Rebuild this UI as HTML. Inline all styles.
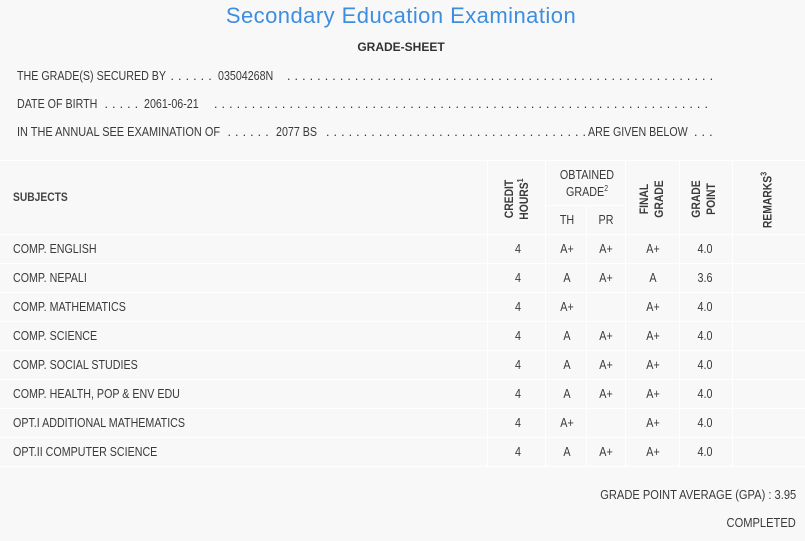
<!DOCTYPE html>
<html><head><meta charset="utf-8">
<style>
html,body{margin:0;padding:0}
body{width:805px;height:541px;background:#f8f8f9;position:relative;overflow:hidden;font-family:"Liberation Sans",Arial,sans-serif;color:#3a3a3a}
.a{position:absolute;white-space:nowrap;font-size:12.5px;line-height:14px}
.l{transform-origin:0 50%;transform:scaleX(.855)}
.c{transform:translateX(-50%) scaleX(.86)}
.r{transform-origin:100% 50%;transform:scaleX(.89)}
.d{position:absolute;white-space:nowrap;overflow:hidden;font-size:12.5px;line-height:14px;letter-spacing:.3px;color:#333}
.h{position:absolute;background:#fff;height:1px}
.v{position:absolute;background:#fff;width:1px}
.rot{position:absolute;white-space:nowrap;font-size:11.5px;line-height:15px;font-weight:bold;text-align:center;color:#3a3a3a;transform:translate(-50%,-50%) rotate(-90deg) scaleX(.9)}
sup{font-size:8px;line-height:0;vertical-align:5px}
</style></head><body>

<div class="a" style="left:401px;top:3px;font-size:22px;line-height:26px;letter-spacing:.45px;color:#3d8ee0;transform:translateX(-50%)">Secondary Education Examination</div>
<div class="a" style="left:401px;top:40px;font-size:12px;font-weight:bold;color:#333;transform:translateX(-50%)">GRADE-SHEET</div>

<div class="a l" style="left:17px;top:68.5px">THE GRADE(S) SECURED BY</div>
<div class="d" style="left:170.5px;top:68.5px;width:45px">. . . . . .</div>
<div class="a l" style="left:218px;top:68.5px">03504268N</div>
<div class="d" style="left:287px;top:68.5px;width:429px">. . . . . . . . . . . . . . . . . . . . . . . . . . . . . . . . . . . . . . . . . . . . . . . . . . . . . . . . . . . . . . . . . . . .</div>

<div class="a l" style="left:17px;top:97px">DATE OF BIRTH</div>
<div class="d" style="left:104.5px;top:97px;width:37px">. . . . .</div>
<div class="a l" style="left:144px;top:97px">2061-06-21</div>
<div class="d" style="left:214px;top:97px;width:494px">. . . . . . . . . . . . . . . . . . . . . . . . . . . . . . . . . . . . . . . . . . . . . . . . . . . . . . . . . . . . . . . . . . . . . . . . . . . .</div>

<div class="a" style="left:17px;top:124.5px;transform-origin:0 50%;transform:scaleX(.876)">IN THE ANNUAL SEE EXAMINATION OF</div>
<div class="d" style="left:227.5px;top:124.5px;width:45px">. . . . . .</div>
<div class="a l" style="left:276px;top:124.5px">2077 BS</div>
<div class="d" style="left:326px;top:124.5px;width:261px">. . . . . . . . . . . . . . . . . . . . . . . . . . . . . . . . . . . . . . . . . . . .</div>
<div class="a l" style="left:588px;top:124.5px">ARE GIVEN BELOW</div>
<div class="d" style="left:694px;top:124.5px;width:24px">. . .</div>

<!-- table lines -->
<div class="h" style="left:0;top:160px;width:805px"></div>
<div class="h" style="left:545px;top:205px;width:80px"></div>
<div class="h" style="left:0;top:234px;width:805px"></div>
<div class="h" style="left:0;top:263px;width:805px"></div>
<div class="h" style="left:0;top:292px;width:805px"></div>
<div class="h" style="left:0;top:321px;width:805px"></div>
<div class="h" style="left:0;top:350px;width:805px"></div>
<div class="h" style="left:0;top:379px;width:805px"></div>
<div class="h" style="left:0;top:408px;width:805px"></div>
<div class="h" style="left:0;top:437px;width:805px"></div>
<div class="h" style="left:0;top:466px;width:805px"></div>
<div class="v" style="left:487px;top:160px;height:307px"></div>
<div class="v" style="left:545px;top:160px;height:307px"></div>
<div class="v" style="left:586px;top:205px;height:262px"></div>
<div class="v" style="left:625px;top:160px;height:307px"></div>
<div class="v" style="left:679px;top:160px;height:307px"></div>
<div class="v" style="left:732px;top:160px;height:307px"></div>

<!-- header -->
<div class="a l" style="left:13px;top:190px;font-weight:bold;font-size:12px;color:#444">SUBJECTS</div>
<div class="rot" style="left:518px;top:199px">CREDIT<br>HOURS<sup>1</sup></div>
<div class="a c" style="left:587px;top:168px">OBTAINED</div>
<div class="a c" style="left:587px;top:185px">GRADE<sup>2</sup></div>
<div class="a c" style="left:567px;top:213px">TH</div>
<div class="a c" style="left:606px;top:213px">PR</div>
<div class="rot" style="left:653px;top:199px">FINAL<br>GRADE</div>
<div class="rot" style="left:705px;top:199px">GRADE<br>POINT</div>
<div class="rot" style="left:769px;top:200px">REMARKS<sup>3</sup></div>

<!-- rows -->
<div class="a l" style="left:13px;top:242px">COMP. ENGLISH</div>
<div class="a c" style="left:518px;top:242px">4</div><div class="a c" style="left:567px;top:242px">A+</div><div class="a c" style="left:606px;top:242px">A+</div><div class="a c" style="left:653px;top:242px">A+</div><div class="a c" style="left:705px;top:242px">4.0</div>

<div class="a l" style="left:13px;top:271px">COMP. NEPALI</div>
<div class="a c" style="left:518px;top:271px">4</div><div class="a c" style="left:567px;top:271px">A</div><div class="a c" style="left:606px;top:271px">A+</div><div class="a c" style="left:653px;top:271px">A</div><div class="a c" style="left:705px;top:271px">3.6</div>

<div class="a l" style="left:13px;top:300px">COMP. MATHEMATICS</div>
<div class="a c" style="left:518px;top:300px">4</div><div class="a c" style="left:567px;top:300px">A+</div><div class="a c" style="left:653px;top:300px">A+</div><div class="a c" style="left:705px;top:300px">4.0</div>

<div class="a l" style="left:13px;top:329px">COMP. SCIENCE</div>
<div class="a c" style="left:518px;top:329px">4</div><div class="a c" style="left:567px;top:329px">A</div><div class="a c" style="left:606px;top:329px">A+</div><div class="a c" style="left:653px;top:329px">A+</div><div class="a c" style="left:705px;top:329px">4.0</div>

<div class="a l" style="left:13px;top:358px">COMP. SOCIAL STUDIES</div>
<div class="a c" style="left:518px;top:358px">4</div><div class="a c" style="left:567px;top:358px">A</div><div class="a c" style="left:606px;top:358px">A+</div><div class="a c" style="left:653px;top:358px">A+</div><div class="a c" style="left:705px;top:358px">4.0</div>

<div class="a l" style="left:13px;top:387px">COMP. HEALTH, POP &amp; ENV EDU</div>
<div class="a c" style="left:518px;top:387px">4</div><div class="a c" style="left:567px;top:387px">A</div><div class="a c" style="left:606px;top:387px">A+</div><div class="a c" style="left:653px;top:387px">A+</div><div class="a c" style="left:705px;top:387px">4.0</div>

<div class="a l" style="left:13px;top:416px">OPT.I ADDITIONAL MATHEMATICS</div>
<div class="a c" style="left:518px;top:416px">4</div><div class="a c" style="left:567px;top:416px">A+</div><div class="a c" style="left:653px;top:416px">A+</div><div class="a c" style="left:705px;top:416px">4.0</div>

<div class="a l" style="left:13px;top:445px">OPT.II COMPUTER SCIENCE</div>
<div class="a c" style="left:518px;top:445px">4</div><div class="a c" style="left:567px;top:445px">A</div><div class="a c" style="left:606px;top:445px">A+</div><div class="a c" style="left:653px;top:445px">A+</div><div class="a c" style="left:705px;top:445px">4.0</div>

<div class="a r" style="right:9px;top:488px">GRADE POINT AVERAGE (GPA) : 3.95</div>
<div class="a r" style="right:9px;top:516px">COMPLETED</div>

</body></html>
